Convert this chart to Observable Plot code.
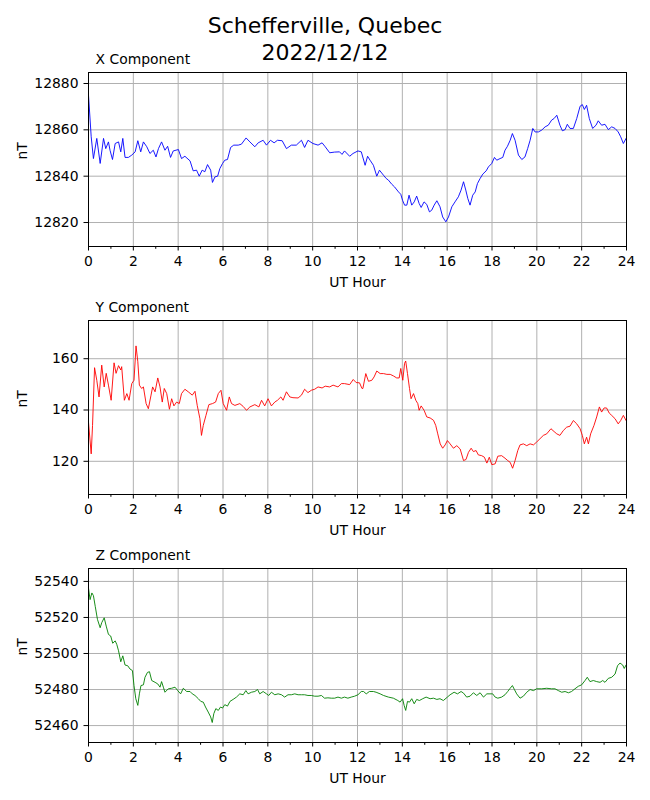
<!DOCTYPE html>
<html>
<head>
<meta charset="utf-8">
<script src="https://cdn.jsdelivr.net/npm/d3@7"></script>
<script src="https://cdn.jsdelivr.net/npm/@observablehq/plot@0.6"></script>
<style>
  body { margin: 0; background: #fff; font-family: "DejaVu Sans", sans-serif; }
  #wrap { position: relative; width: 650px; }
  #title { position: absolute; top: 12px; left: 0; width: 650px; text-align: center;
           font-size: 22px; line-height: 27px; color: #000; }
  #charts { padding-top: 42px; }
  svg { display: block; }
</style>
</head>
<body>
<div id="wrap">
  <div id="title">Schefferville, Quebec<br>2022/12/12</div>
  <div id="charts"></div>
</div>
<script>
// ---- X component (nT) ----
const xHours = [0.00,0.12,0.22,0.37,0.52,0.67,0.77,0.89,0.96,1.07,1.19,1.34,1.44,1.53,1.63,1.78,1.93,2.08,2.20,2.33,2.45,2.60,2.74,2.89,3.01,3.12,3.26,3.41,3.53,3.66,3.78,4.01,4.15,4.30,4.53,4.67,4.82,4.94,5.07,5.19,5.31,5.45,5.53,5.64,5.76,5.86,5.98,6.08,6.20,6.34,6.48,6.68,6.82,7.03,7.20,7.42,7.57,7.79,7.94,8.12,8.28,8.43,8.64,8.83,9.05,9.27,9.50,9.64,9.79,10.01,10.24,10.42,10.56,10.76,10.98,11.20,11.31,11.42,11.65,11.80,12.02,12.17,
  12.34,12.45,12.56,12.71,12.86,12.98,13.16,13.28,13.38,13.53,13.65,13.83,13.93,14.01,14.10,14.20,14.30,14.42,14.53,14.64,14.75,14.84,14.97,15.09,15.21,15.31,15.42,15.54,15.68,15.80,15.94,16.06,16.21,16.35,16.50,16.62,16.73,16.83,16.92,17.02,17.14,17.25,17.35,17.47,17.59,17.74,17.84,17.99,18.11,18.21,18.36,18.48,18.58,18.69,18.81,18.91,19.03,19.18,19.33,19.47,19.59,19.70,19.82,19.92,20.07,20.22,20.37,20.51,20.66,20.77,20.89,21.03,21.14,21.26,21.36,21.48,21.63,21.78,21.93,22.03,22.12,22.22,22.34,22.49,22.64,22.74,22.89,23.04,23.19,23.34,23.49,23.63,23.74,23.86,23.98];
const xValues = [12875.0,12857.0,12847.6,12856.3,12845.5,12856.3,12851.9,12854.8,12851.2,12847.2,12854.1,12854.8,12850.5,12856.3,12848.1,12848.1,12849.1,12850.5,12855.3,12850.5,12854.8,12852.7,12849.8,12851.2,12848.3,12851.9,12854.8,12851.2,12852.9,12848.1,12850.9,12851.5,12847.6,12848.6,12846.6,12842.3,12842.6,12840.0,12842.6,12841.9,12845.0,12842.6,12837.3,12839.7,12840.0,12843.3,12845.5,12846.9,12847.2,12852.4,12853.4,12853.4,12853.8,12856.5,12854.8,12852.7,12854.4,12855.5,12853.4,12855.5,12854.4,12855.5,12855.3,12851.9,12853.4,12853.4,12855.5,12852.4,12855.5,12854.1,12853.4,12854.4,12852.7,12850.1,12850.4,12850.5,12849.4,12850.9,12848.6,12849.8,12850.9,12850.5,
  12844.7,12848.6,12846.9,12844.7,12840.0,12842.6,12840.4,12839.0,12838.3,12836.5,12835.4,12833.2,12832.2,12829.6,12827.5,12827.5,12831.8,12827.5,12828.9,12831.4,12828.2,12826.5,12828.9,12827.8,12824.6,12825.3,12827.5,12829.4,12826.8,12822.4,12820.3,12822.4,12826.8,12828.9,12831.1,12834.0,12837.6,12834.0,12830.4,12827.5,12831.8,12833.2,12836.8,12839.0,12840.9,12842.3,12844.0,12845.5,12848.1,12846.9,12847.6,12848.1,12851.2,12852.9,12855.5,12858.4,12855.5,12849.1,12847.2,12848.3,12851.9,12855.5,12860.6,12859.1,12859.1,12859.9,12861.3,12862.0,12864.2,12864.9,12866.3,12862.0,12859.6,12860.1,12862.4,12860.6,12860.6,12864.9,12870.2,12870.9,12868.8,12870.6,12864.9,12860.6,12862.0,12863.9,12862.0,12862.4,12860.1,12861.3,12860.6,12859.1,12857.0,12854.1,12856.3];

// ---- Y component (nT) ----
const yHours = [0.00,0.12,0.18,0.27,0.37,0.47,0.59,0.70,0.79,0.89,1.01,1.14,1.23,1.34,1.44,1.48,1.60,1.71,1.81,1.93,2.03,2.12,2.20,2.27,2.37,2.45,2.57,2.67,2.79,2.86,2.97,3.09,3.19,3.29,3.38,3.49,3.61,3.71,3.81,3.93,4.05,4.15,4.30,4.45,4.63,4.75,4.85,4.97,5.04,5.12,5.24,5.37,5.53,5.67,5.79,5.91,6.01,6.16,6.28,6.38,6.53,6.75,6.90,7.05,7.20,7.42,7.60,7.72,7.86,8.01,8.16,8.31,8.43,8.58,8.68,8.83,8.98,9.12,9.35,9.50,9.64,9.79,9.94,10.09,10.24,10.42,10.56,10.76,10.91,11.13,11.28,11.42,11.65,11.81,11.94,12.09,12.20,
  12.24,12.37,12.49,12.64,12.74,12.86,13.01,13.16,13.31,13.46,13.60,13.75,13.86,13.93,14.02,14.10,14.15,14.23,14.32,14.39,14.50,14.60,14.69,14.75,14.84,14.97,15.09,15.24,15.39,15.49,15.58,15.69,15.80,15.91,16.01,16.13,16.28,16.43,16.58,16.73,16.84,16.95,17.07,17.17,17.29,17.39,17.54,17.66,17.77,17.88,17.99,18.14,18.26,18.43,18.58,18.70,18.81,18.92,19.03,19.15,19.25,19.40,19.55,19.70,19.85,19.99,20.14,20.29,20.44,20.63,20.77,20.89,21.03,21.18,21.33,21.48,21.63,21.78,21.93,22.03,22.12,22.22,22.30,22.40,22.55,22.67,22.79,22.89,23.00,23.11,23.23,23.34,23.49,23.63,23.74,23.86,23.98];
const yValues = [135.3,122.9,134.0,156.5,151.6,145.1,157.5,149.0,154.3,149.7,143.8,158.4,154.3,157.3,155.6,156.9,143.8,146.4,143.8,150.3,151.6,165.0,158.8,149.7,148.4,149.0,142.5,140.5,145.8,149.0,147.1,152.5,149.0,143.1,148.4,146.4,140.3,144.4,141.6,143.1,142.5,146.4,148.1,147.1,145.8,147.3,141.8,136.6,130.1,134.0,137.9,142.1,142.5,143.1,146.4,147.7,142.5,139.9,145.1,142.5,141.8,142.5,141.4,139.9,141.2,142.1,141.2,143.8,141.6,144.4,141.6,143.1,143.8,145.1,143.8,147.1,145.1,144.8,144.7,145.8,148.1,146.8,147.7,148.1,149.0,148.6,149.3,149.0,149.7,149.0,150.3,150.3,149.9,151.9,150.7,150.6,148.4,
  148.4,154.2,151.2,151.6,152.9,155.2,154.2,154.2,153.9,153.9,153.3,152.5,152.5,156.2,151.6,158.2,159.1,154.2,148.4,144.4,146.4,143.8,142.5,139.9,141.6,139.9,137.3,136.9,136.0,134.0,130.7,126.8,125.1,126.4,128.1,126.8,125.1,126.1,124.8,120.3,120.7,123.5,125.1,123.8,124.2,122.5,122.2,121.6,119.3,121.6,118.7,119.0,122.0,122.2,121.2,120.3,119.6,117.3,120.3,124.2,126.4,126.8,126.1,126.8,126.4,127.5,128.8,130.1,130.7,132.7,131.6,130.7,130.1,132.0,133.3,133.7,135.9,134.6,132.7,130.1,126.8,129.4,126.8,130.7,134.0,137.3,141.2,139.2,140.8,140.8,138.8,137.9,136.6,134.6,135.9,137.9,135.9];

// ---- Z component (nT) ----
const zHours = [0.00,0.07,0.15,0.22,0.30,0.40,0.52,0.59,0.70,0.79,0.89,0.99,1.08,1.19,1.26,1.34,1.44,1.53,1.63,1.75,1.85,1.96,2.03,2.11,2.20,2.27,2.34,2.45,2.52,2.63,2.72,2.82,2.97,3.09,3.19,3.26,3.34,3.41,3.56,3.71,3.86,3.98,4.11,4.23,4.38,4.53,4.63,4.75,4.90,5.01,5.12,5.22,5.34,5.45,5.52,5.59,5.68,5.79,5.89,5.98,6.08,6.20,6.31,6.45,6.60,6.75,6.90,7.02,7.12,7.27,7.42,7.54,7.64,7.79,7.94,8.04,8.16,8.31,8.46,8.61,8.75,8.90,9.05,9.20,9.35,9.50,9.64,9.79,9.94,10.09,10.24,10.39,10.53,10.68,10.83,10.98,11.13,11.28,11.42,11.57,11.72,11.87,12.02,12.17,
  12.27,12.39,12.53,12.71,12.83,13.01,13.16,13.38,13.60,13.80,13.90,14.01,14.08,14.15,14.23,14.32,14.42,14.53,14.64,14.76,14.91,15.06,15.24,15.39,15.54,15.68,15.83,16.01,16.13,16.31,16.46,16.62,16.73,16.87,17.02,17.17,17.32,17.47,17.62,17.77,17.91,18.03,18.14,18.26,18.43,18.58,18.70,18.81,18.91,19.00,19.10,19.25,19.40,19.55,19.70,19.85,19.99,20.22,20.44,20.66,20.81,20.96,21.11,21.26,21.41,21.55,21.70,21.85,22.00,22.15,22.25,22.37,22.52,22.67,22.82,22.94,23.04,23.19,23.34,23.49,23.60,23.71,23.83,23.90,23.98];
const zValues = [52536.3,52529.9,52533.6,52532.1,52526.2,52518.9,52514.3,52517.1,52519.8,52515.2,52510.6,52509.7,52505.7,52507.0,52505.1,52501.5,52495.4,52498.7,52493.6,52493.2,52491.4,52490.5,52482.2,52474.9,52471.2,52477.6,52482.2,52482.6,52486.8,52489.5,52489.9,52485.0,52484.0,52483.1,52481.3,52484.4,52481.3,52478.5,52480.4,52480.7,52481.3,52479.4,52477.6,52480.7,52478.9,52478.9,52477.6,52476.7,52474.9,52473.4,52473.0,52470.3,52467.5,52464.8,52461.7,52466.6,52469.4,52468.4,52470.3,52469.7,52471.6,52470.8,52473.4,52474.5,52475.8,52477.6,52477.1,52479.4,52477.6,52478.5,52478.9,52480.0,52477.6,52478.9,52477.6,52476.7,52478.5,52477.1,52477.6,52477.1,52475.8,52477.1,52477.1,52477.6,52477.1,52477.1,52477.1,52476.7,52476.7,52476.3,52476.3,52476.7,52475.2,52475.4,52475.2,52475.2,52475.8,52475.2,52475.8,52475.2,52475.8,52476.3,52477.1,52478.9,
  52478.9,52477.6,52478.9,52478.9,52478.5,52477.6,52476.7,52475.8,52475.2,52473.9,52473.0,52474.9,52471.2,52468.4,52473.4,52473.0,52474.9,52472.1,52474.5,52473.9,52474.9,52475.8,52474.9,52475.2,52474.5,52474.9,52473.9,52475.8,52477.1,52478.5,52477.6,52478.9,52478.0,52475.8,52476.3,52478.2,52476.7,52478.2,52475.8,52477.6,52477.6,52477.6,52475.8,52475.2,52475.8,52477.1,52478.9,52480.7,52482.2,52480.0,52477.6,52475.2,52476.3,52478.5,52480.0,52479.4,52480.4,52480.4,52480.7,52480.4,52480.4,52479.4,52478.5,52478.9,52478.2,52478.9,52480.4,52481.8,52482.6,52485.0,52486.8,52484.4,52485.0,52484.4,52484.0,52485.0,52484.0,52486.2,52486.8,52488.6,52493.2,52494.7,52493.6,52491.7,52493.6];

// ---- axis ticks ----
const hourTicks = [0, 2, 4, 6, 8, 10, 12, 14, 16, 18, 20, 22, 24];
const minorHourTicks = [1, 3, 5, 7, 9, 11, 13, 15, 17, 19, 21, 23];
const xTicks = [12820, 12840, 12860, 12880];
const yTicks = [120, 140, 160];
const zTicks = [52460, 52480, 52500, 52520, 52540];
const titles = ["X Component", "Y Component", "Z Component"];
const colors = ["blue", "red", "green"];
const xDomain = [12809.65, 12884.75];
const yDomain = [107.06, 174.9];
const zDomain = [52450.6, 52547.17];

const panels = [
  {title: titles[0], hours: xHours, values: xValues, color: colors[0], domain: xDomain, ticks: xTicks},
  {title: titles[1], hours: yHours, values: yValues, color: colors[1], domain: yDomain, ticks: yTicks},
  {title: titles[2], hours: zHours, values: zValues, color: colors[2], domain: zDomain, ticks: zTicks}
];

const FS = 13.9;
for (const p of panels) {
  const data = p.hours.map((h, i) => ({hour: h, value: p.values[i]}));
  const chart = Plot.plot({
    width: 650, height: 248,
    marginTop: 30, marginBottom: 44, marginLeft: 88, marginRight: 24,
    style: {fontFamily: "DejaVu Sans, sans-serif", fontSize: FS + "px", color: "black", background: "white", overflow: "visible"},
    x: {domain: [0, 24]},
    y: {domain: p.domain},
    marks: [
      Plot.gridX(hourTicks, {stroke: "#b0b0b0", strokeOpacity: 1, strokeWidth: 1}),
      Plot.gridY(p.ticks, {stroke: "#b0b0b0", strokeOpacity: 1, strokeWidth: 1}),
      Plot.line(data, {x: "hour", y: "value", stroke: p.color, strokeWidth: 0.9}),
      Plot.frame({stroke: "black", strokeWidth: 1}),
      Plot.axisX(hourTicks, {tickSize: 4.5, tickPadding: 5, label: null, fontSize: FS, tickFormat: d => String(d)}),
      Plot.axisX(minorHourTicks, {tickSize: 2.8, tickPadding: 0, label: null, tickFormat: () => ""}),
      Plot.axisY(p.ticks, {tickSize: 4.5, tickPadding: 5.5, label: null, fontSize: FS, tickFormat: d => String(d)}),
      Plot.text([p.title], {frameAnchor: "top-left", dx: 7, dy: -13, lineAnchor: "middle", textAnchor: "start", fontSize: FS, fill: "black"}),
      Plot.text(["UT Hour"], {frameAnchor: "bottom", dy: 36, lineAnchor: "middle", fontSize: FS, fill: "black"}),
      Plot.text(["nT"], {frameAnchor: "left", dx: -66, rotate: -90, lineAnchor: "middle", fontSize: FS, fill: "black"})
    ]
  });
  document.getElementById("charts").appendChild(chart);
}
</script>
</body>
</html>
